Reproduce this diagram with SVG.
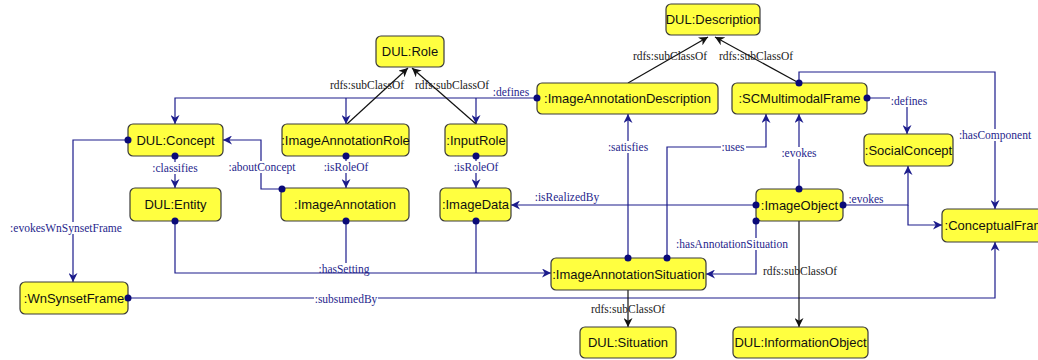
<svg xmlns="http://www.w3.org/2000/svg" width="1038" height="360" viewBox="0 0 1038 360">
<style>
.node rect{fill:#ffff40;stroke:#3a3a3a;stroke-width:1.2}
.node text{font-family:"Liberation Sans",Arial,sans-serif;font-size:13px;fill:#111;text-anchor:middle;dominant-baseline:central}
.b{fill:none;stroke:#1c1c8c;stroke-width:1.2}
.k{fill:none;stroke:#111;stroke-width:1.2}
.ab{marker-end:url(#arrB)}
.ak{marker-end:url(#arrK)}
.dot{fill:#0a0a78}
.lb{font-family:"Liberation Serif","Times New Roman",serif;font-size:11.5px;fill:#26268c;text-anchor:middle;dominant-baseline:central}
.lk{font-family:"Liberation Serif","Times New Roman",serif;font-size:11.5px;fill:#222;text-anchor:middle;dominant-baseline:central}
.bg{fill:#fff}
</style>
<defs>
<marker id="arrB" viewBox="0 0 10 10" refX="10" refY="5" markerWidth="9" markerHeight="9" markerUnits="userSpaceOnUse" orient="auto">
<path d="M0,0 L10,5 L0,10 L3,5 Z" fill="#1c1c8c"/>
</marker>
<marker id="arrK" viewBox="0 0 10 10" refX="10" refY="5" markerWidth="9" markerHeight="9" markerUnits="userSpaceOnUse" orient="auto">
<path d="M0,0 L10,5 L0,10 L3,5 Z" fill="#111"/>
</marker>
</defs>
<rect width="1038" height="360" fill="#fff"/>

<g id="connectors">
<path class="b ab" d="M128,140 H73 V282"/>
<path class="b ab" d="M175,156 V188"/>
<path class="b ab" d="M282,189 H261 V140 H223"/>
<path class="b ab" d="M346,156 V188"/>
<path class="b ab" d="M476,156 V188"/>
<path class="b ab" d="M537,98 H175 V124"/>
<path class="b ab" d="M346,98 V124"/>
<path class="b ab" d="M476,98 V124"/>
<path class="b ab" d="M756,205 H511"/>
<path class="b ab" d="M628,258 V114"/>
<path class="b ab" d="M667,258 V147 H766 V114"/>
<path class="b ab" d="M799,189 V114"/>
<path class="b ab" d="M867,98 H907 V134"/>
<path class="b ab" d="M843,205 H908 V166"/>
<path class="b ab" d="M908,205 V225 H942"/>
<path class="b ab" d="M756,221 V274 H706"/>
<path class="b ab" d="M799,83 V72 H995 V209"/>
<path class="b ab" d="M175,221 V273 H551"/>
<path class="b" d="M346,221 V273"/>
<path class="b" d="M476,221 V273"/>
<path class="b ab" d="M128,298 H995 V242"/>
<path class="k ak" d="M347,124 L408,68"/>
<path class="k ak" d="M476,124 L412,68"/>
<path class="k ak" d="M628,83 L708,37"/>
<path class="k ak" d="M799,83 L715,37"/>
<path class="k ak" d="M799,221 V327"/>
<path class="k ak" d="M628,290 V327"/>
</g>

<g id="edge-labels">
<rect class="bg" x="9" y="222" width="114" height="12"/><text class="lb" x="66" y="228">:evokesWnSynsetFrame</text>
<rect class="bg" x="152" y="162" width="46" height="12"/><text class="lb" x="175" y="168">:classifies</text>
<rect class="bg" x="228" y="161" width="68" height="12"/><text class="lb" x="262" y="167">:aboutConcept</text>
<rect class="bg" x="323" y="161" width="46" height="12"/><text class="lb" x="346" y="167">:isRoleOf</text>
<rect class="bg" x="453" y="161" width="46" height="12"/><text class="lb" x="476" y="167">:isRoleOf</text>
<rect class="bg" x="607" y="141" width="42" height="12"/><text class="lb" x="628" y="147">:satisfies</text>
<rect class="bg" x="721" y="141" width="25" height="12"/><text class="lb" x="733" y="147">:uses</text>
<rect class="bg" x="781" y="147" width="37" height="12"/><text class="lb" x="799" y="153">:evokes</text>
<rect class="bg" x="890" y="94" width="38" height="13"/><text class="lb" x="909" y="101">:defines</text>
<rect class="bg" x="958" y="129" width="75" height="12"/><text class="lb" x="995" y="135">:hasComponent</text>
<rect class="bg" x="675" y="238" width="114" height="12"/><text class="lb" x="732" y="244">:hasAnnotationSituation</text>
<rect class="bg" x="318" y="263" width="53" height="9"/><text class="lb" x="344" y="269">:hasSetting</text>
<rect class="bg" x="314" y="293" width="64" height="12"/><text class="lb" x="346" y="299">:subsumedBy</text>
<text class="lb" x="511" y="92">:defines</text>
<text class="lb" x="567" y="197">:isRealizedBy</text>
<text class="lb" x="866" y="199">:evokes</text>
<text class="lk" x="367" y="85">rdfs:subClassOf</text>
<text class="lk" x="452" y="85">rdfs:subClassOf</text>
<text class="lk" x="670" y="56">rdfs:subClassOf</text>
<text class="lk" x="756" y="56">rdfs:subClassOf</text>
<text class="lk" x="800" y="271">rdfs:subClassOf</text>
<text class="lk" x="628" y="309">rdfs:subClassOf</text>
</g>

<g id="n-description" class="node"><rect x="666" y="4" width="94" height="31" rx="5"/><text x="713" y="19.5">DUL:Description</text></g>
<g id="n-role" class="node"><rect x="376" y="36" width="68" height="31" rx="5"/><text x="410" y="51.5">DUL:Role</text></g>
<g id="n-iad" class="node"><rect x="537" y="83" width="181" height="31" rx="5"/><text x="627.5" y="98.5">:ImageAnnotationDescription</text></g>
<g id="n-scmf" class="node"><rect x="732" y="83" width="135" height="31" rx="5"/><text x="799.5" y="98.5">:SCMultimodalFrame</text></g>
<g id="n-concept" class="node"><rect x="128" y="124" width="95" height="32" rx="5"/><text x="175.5" y="140">DUL:Concept</text></g>
<g id="n-iarole" class="node"><rect x="282" y="124" width="127" height="32" rx="5"/><text x="345.5" y="140">:ImageAnnotationRole</text></g>
<g id="n-inputrole" class="node"><rect x="445" y="124" width="62" height="32" rx="5"/><text x="476" y="140">:InputRole</text></g>
<g id="n-socialconcept" class="node"><rect x="864" y="134" width="89" height="32" rx="5"/><text x="908.5" y="150">:SocialConcept</text></g>
<g id="n-entity" class="node"><rect x="130" y="188" width="91" height="33" rx="5"/><text x="175.5" y="204.5">DUL:Entity</text></g>
<g id="n-imageannotation" class="node"><rect x="281" y="188" width="128" height="33" rx="5"/><text x="345" y="204.5">:ImageAnnotation</text></g>
<g id="n-imagedata" class="node"><rect x="440" y="188" width="71" height="33" rx="5"/><text x="475.5" y="204.5">:ImageData</text></g>
<g id="n-imageobject" class="node"><rect x="756" y="189" width="87" height="32" rx="5"/><text x="799.5" y="205">:ImageObject</text></g>
<g id="n-conceptualframe" class="node"><rect x="942" y="209" width="112" height="33" rx="5"/><text x="998" y="225.5">:ConceptualFrame</text></g>
<g id="n-ias" class="node"><rect x="551" y="258" width="155" height="32" rx="5"/><text x="628.5" y="274">:ImageAnnotationSituation</text></g>
<g id="n-wnsynsetframe" class="node"><rect x="20" y="282" width="108" height="32" rx="5"/><text x="74" y="298">:WnSynsetFrame</text></g>
<g id="n-situation" class="node"><rect x="580" y="327" width="96" height="31" rx="5"/><text x="628" y="342.5">DUL:Situation</text></g>
<g id="n-infobject" class="node"><rect x="733" y="327" width="135" height="31" rx="5"/><text x="800.5" y="342.5">DUL:InformationObject</text></g>

<g id="connector-ends" class="dot">
<circle cx="128" cy="140" r="3.5"/>
<circle cx="175" cy="156" r="3.5"/>
<circle cx="282" cy="189" r="3.5"/>
<circle cx="346" cy="156" r="3.5"/>
<circle cx="476" cy="156" r="3.5"/>
<circle cx="537" cy="98" r="3.5"/>
<circle cx="756" cy="205" r="3.5"/>
<circle cx="628" cy="258" r="3.5"/>
<circle cx="667" cy="258" r="3.5"/>
<circle cx="799" cy="189" r="3.5"/>
<circle cx="867" cy="98" r="3.5"/>
<circle cx="843" cy="205" r="3.5"/>
<circle cx="756" cy="221" r="3.5"/>
<circle cx="799" cy="83" r="3.5"/>
<circle cx="175" cy="221" r="3.5"/>
<circle cx="346" cy="221" r="3.5"/>
<circle cx="476" cy="221" r="3.5"/>
<circle cx="128" cy="298" r="3.5"/>
</g>
</svg>
